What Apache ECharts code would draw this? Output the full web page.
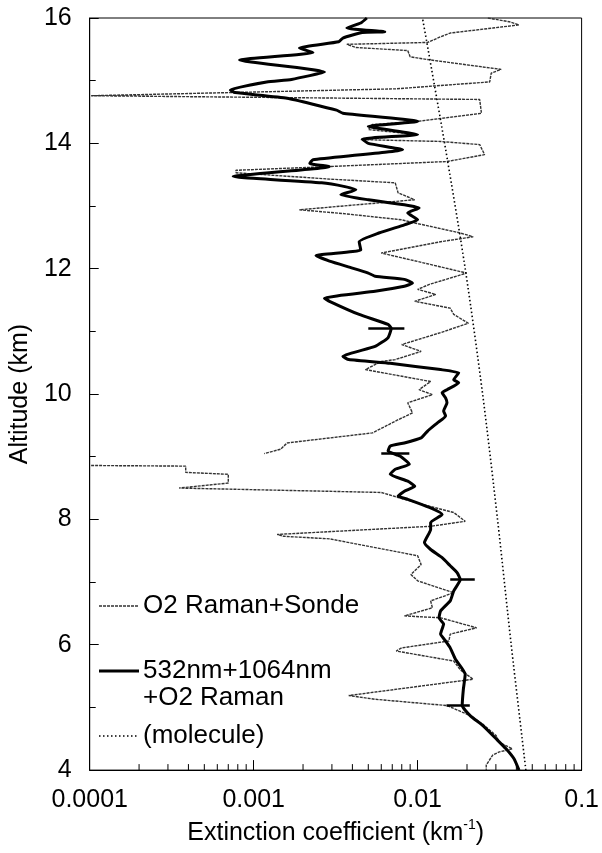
<!DOCTYPE html>
<html>
<head>
<meta charset="utf-8">
<script src="https://cdn.jsdelivr.net/npm/echarts@6/dist/echarts.min.js"></script>
<style>
html,body{margin:0;padding:0;background:#fff;}
#c{width:602px;height:853px;}
</style>
</head>
<body>
<div id="c"></div>
<script>
// ---------- data ----------
// O2 Raman + Sonde (thin grey line); null = gap in the profile
const sondeAlt = [16.00,15.94,15.89,15.84,15.76,15.70,15.61,15.58,15.53,15.48,15.38,15.33,15.18,15.12,14.98,14.91,14.87,14.76,14.74,14.70,14.48,14.35,14.30,14.22,14.14,14.06,14.03,13.98,13.82,13.71,13.63,13.57,13.53,13.43,13.37,13.21,13.10,12.94,12.88,12.78,12.73,12.57,12.51,12.43,12.25,12.09,11.93,11.90,11.75,11.67,11.59,11.48,11.40,11.37,11.27,11.13,10.98,10.79,10.68,10.55,10.52,10.39,10.20,10.07,9.99,9.86,9.70,9.59,9.38,9.22,9.12,9.05,8.95,8.86,8.85,8.75,8.72,8.58,8.50,8.43,8.35,8.21,8.11,7.97,7.89,7.76,7.73,7.69,7.42,7.28,7.12,7.02,6.83,6.70,6.59,6.46,6.43,6.27,6.17,6.06,5.95,5.90,5.74,5.60,5.45,5.19,5.13,5.03,4.87,4.73,4.55,4.44,4.34,4.29,4.24,4.08,4.00];
const sondeExt = [0.0268,0.0362,0.0415,0.0287,0.0158,0.0138,0.0115,0.0037,0.0042,0.0087,0.0090,0.0120,0.0323,0.0281,0.0275,0.0118,0.0074,0.000102,0.000102,0.0239,0.0245,0.0100,0.0053,0.0050,0.0100,0.0045,0.0138,0.0239,0.0256,0.0151,0.0029,0.00078,0.00078,0.0029,0.0073,0.0076,0.0096,0.0019,0.0035,0.0080,0.0096,0.0182,0.0218,0.0138,0.0060,0.0110,0.0199,0.0204,0.0118,0.0100,0.0129,0.0096,0.0138,0.0158,0.0166,0.0204,0.0138,0.0080,0.0105,0.0073,0.0060,0.0048,0.0120,0.0102,0.0123,0.0087,0.0093,0.0076,0.0053,0.0016,0.00146,0.00116,null,0.000102,0.000385,0.000385,0.00070,0.00070,0.000351,0.0060,0.0076,0.0118,0.0166,0.0195,0.0120,0.00139,0.00153,0.0029,0.0100,0.0105,0.0091,0.0100,0.0166,0.0120,0.0123,0.0083,0.0138,0.0229,0.0158,0.0155,0.0080,0.0074,0.0166,0.0182,0.0218,0.0038,0.0055,0.0151,0.0209,0.0250,0.0301,0.0315,0.0378,0.0315,0.0287,0.0262,0.0262];

// 532nm + 1064nm + O2 Raman (thick black line)
const combAlt = [16.00,15.92,15.84,15.78,15.77,15.68,15.62,15.52,15.45,15.33,15.14,15.02,14.98,14.85,14.81,14.72,14.53,14.48,14.35,14.27,14.14,14.07,14.00,13.90,13.74,13.68,13.63,13.47,13.45,13.37,13.31,13.26,13.18,13.10,13.02,12.97,12.89,12.78,12.70,12.57,12.43,12.30,12.21,12.12,12.01,11.93,11.88,11.83,11.77,11.72,11.64,11.53,11.48,11.27,11.11,11.05,10.90,10.76,10.60,10.55,10.49,10.39,10.34,10.23,10.18,10.07,10.02,9.94,9.86,9.73,9.65,9.54,9.41,9.30,9.22,9.17,9.09,9.01,8.88,8.80,8.72,8.61,8.53,8.45,8.37,8.32,8.19,8.08,7.95,7.84,7.63,7.52,7.39,7.26,7.15,7.04,6.86,6.70,6.54,6.43,6.33,6.17,6.06,5.95,5.77,5.53,5.29,5.03,4.87,4.71,4.50,4.34,4.18,4.00];
const combExt = [0.0049,0.0045,0.0037,0.0063,0.0046,0.0035,0.0033,0.0019,0.0023,0.00082,0.0027,0.0017,0.0012,0.00072,0.00077,0.0016,0.0032,0.0035,0.0100,0.0050,0.0100,0.0046,0.0050,0.0081,0.0023,0.0022,0.0029,0.00075,0.00088,0.0026,0.0036,0.0042,0.0034,0.0050,0.0083,0.0102,0.0087,0.0100,0.0083,0.0058,0.0044,0.0045,0.0024,0.0029,0.0040,0.0050,0.0055,0.0083,0.0093,0.0083,0.0055,0.0027,0.0029,0.0044,0.0066,0.0069,0.0066,0.0055,0.0035,0.0038,0.0068,0.0138,0.0178,0.0166,0.0178,0.0151,0.0141,0.0148,0.0151,0.0144,0.0148,0.0132,0.0115,0.0105,0.0083,0.0068,0.0066,0.0078,0.0089,0.0073,0.0068,0.0087,0.0096,0.0083,0.0076,0.0087,0.0118,0.0141,0.0120,0.0120,0.0110,0.0120,0.0141,0.0158,0.0174,0.0182,0.0166,0.0158,0.0138,0.0135,0.0144,0.0138,0.0148,0.0158,0.0170,0.0195,0.0190,0.0187,0.0209,0.0250,0.0301,0.0346,0.0387,0.0415];

// error bars on the combined profile
const errAlt  = [11.05, 9.05, 7.04, 5.03];
const errLow  = [0.0050, 0.0060, 0.0158, 0.0150];
const errHigh = [0.0083, 0.0089, 0.0223, 0.0208];

// molecular extinction (dotted)
const molAlt = [4, 6, 8, 10, 12, 14, 16];
const molExt = [0.0457, 0.0372, 0.0307, 0.0249, 0.0195, 0.0146, 0.0107];

// axis ticks
const xTickValues = [0.0001, 0.001, 0.01, 0.1];
const xTickLabels = ['0.0001', '0.001', '0.01', '0.1'];
const xMinorTicks = [0.0002,0.0003,0.0004,0.0005,0.0006,0.0007,0.0008,0.0009,
                     0.002,0.003,0.004,0.005,0.006,0.007,0.008,0.009,
                     0.02,0.03,0.04,0.05,0.06,0.07,0.08,0.09];
const yMin = 4, yMax = 16, yStep = 2;

// legend labels
const legendNames = ['O2 Raman+Sonde', '532nm+1064nm\n+O2 Raman', '(molecule)'];

// ---------- chart ----------
const FONT = '"Liberation Sans", Arial, Helvetica, sans-serif';
const pairs = (xs, ys) => xs.map((x, i) => (x === null ? ['-', ys[i]] : [x, ys[i]]));

const chart = echarts.init(document.getElementById('c'), null, {renderer: 'canvas'});

const option = {
  animation: false,
  backgroundColor: '#ffffff',
  grid: {left: 82, right: 18, top: 18, bottom: 82, show: true, borderColor: '#000', borderWidth: 1, backgroundColor: 'transparent'},
  xAxis: {
    type: 'log', logBase: 10, min: xTickValues[0], max: xTickValues[xTickValues.length - 1],
    axisLine: {show: true, lineStyle: {color: '#000', width: 1}},
    axisTick: {show: true, inside: true, length: 10, lineStyle: {color: '#000', width: 1}},
    splitLine: {show: false},
    minorTick: {show: false},
    axisLabel: {
      color: '#000', fontSize: 25, fontFamily: FONT, margin: 18,
      formatter: function (v) {
        let best = 0;
        xTickValues.forEach((t, i) => { if (Math.abs(Math.log10(t) - Math.log10(v)) < Math.abs(Math.log10(xTickValues[best]) - Math.log10(v))) best = i; });
        return xTickLabels[best];
      }
    },
    name: 'Extinction coefficient (km{sup|-1})',
    nameLocation: 'middle', nameGap: 46,
    nameTextStyle: {
      color: '#000', fontSize: 25, fontFamily: FONT, lineHeight: 30,
      rich: {sup: {fontSize: 14, fontFamily: FONT, color: '#000', verticalAlign: 'top', lineHeight: 14}}
    }
  },
  yAxis: {
    type: 'value', min: yMin, max: yMax, interval: yStep,
    axisLine: {show: true, lineStyle: {color: '#000', width: 1}},
    axisTick: {show: true, inside: true, length: 9, lineStyle: {color: '#000'}},
    minorTick: {show: true, splitNumber: 2, length: 6, lineStyle: {color: '#000'}},
    splitLine: {show: false},
    axisLabel: {color: '#000', fontSize: 25, fontFamily: FONT, margin: 18},
    name: 'Altitude (km)', nameLocation: 'middle', nameRotate: 90, nameGap: 46,
    nameTextStyle: {color: '#000', fontSize: 25, fontFamily: FONT}
  },
  series: [
    {
      name: legendNames[0], type: 'line', data: pairs(sondeExt, sondeAlt),
      showSymbol: false, clip: true, connectNulls: false, z: 2,
      lineStyle: {color: '#333', width: 1.4, type: [3, 1]}
    },
    {
      name: legendNames[2], type: 'line', data: pairs(molExt, molAlt),
      showSymbol: false, smooth: 0.3, z: 2,
      lineStyle: {color: '#000', width: 1.6, type: [1.5, 2.5]}
    },
    {
      name: legendNames[1], type: 'line', data: pairs(combExt, combAlt),
      showSymbol: false, smooth: 0.15, z: 3,
      lineStyle: {color: '#000', width: 3},
      markLine: {
        silent: true, symbol: ['none', 'none'], label: {show: false}, animation: false,
        lineStyle: {color: '#000', width: 2.5, type: 'solid'},
        data: errAlt.map((a, i) => [{coord: [errLow[i], a]}, {coord: [errHigh[i], a]}])
      }
    },
    {
      type: 'custom', silent: true, clip: false, z: 4,
      data: xMinorTicks.map(v => [v, yMin]),
      encode: {x: 0, y: 1},
      renderItem: function (params, api) {
        const p = api.coord([api.value(0), api.value(1)]);
        return {type: 'line', shape: {x1: p[0], y1: p[1], x2: p[0], y2: p[1] - 6}, style: {stroke: '#000', lineWidth: 1}};
      }
    }
  ],
  graphic: [
    {type: 'line', shape: {x1: 99, y1: 606, x2: 139, y2: 606}, style: {stroke: '#333', lineWidth: 1.4, lineDash: [3, 1]}},
    {type: 'text', x: 143, y: 606, style: {text: legendNames[0], font: '26px ' + FONT, fill: '#000', verticalAlign: 'middle', textVerticalAlign: 'middle'}},
    {type: 'line', shape: {x1: 99, y1: 671, x2: 139, y2: 671}, style: {stroke: '#000', lineWidth: 3}},
    {type: 'text', x: 143, y: 671, style: {text: legendNames[1].split('\n')[0], font: '26px ' + FONT, fill: '#000', verticalAlign: 'middle', textVerticalAlign: 'middle'}},
    {type: 'text', x: 143, y: 698, style: {text: legendNames[1].split('\n')[1], font: '26px ' + FONT, fill: '#000', verticalAlign: 'middle', textVerticalAlign: 'middle'}},
    {type: 'line', shape: {x1: 99, y1: 736, x2: 139, y2: 736}, style: {stroke: '#000', lineWidth: 1.6, lineDash: [1.5, 2.5]}},
    {type: 'text', x: 143, y: 736, style: {text: legendNames[2], font: '26px ' + FONT, fill: '#000', verticalAlign: 'middle', textVerticalAlign: 'middle'}}
  ]
};
chart.setOption(option);
</script>
</body>
</html>
